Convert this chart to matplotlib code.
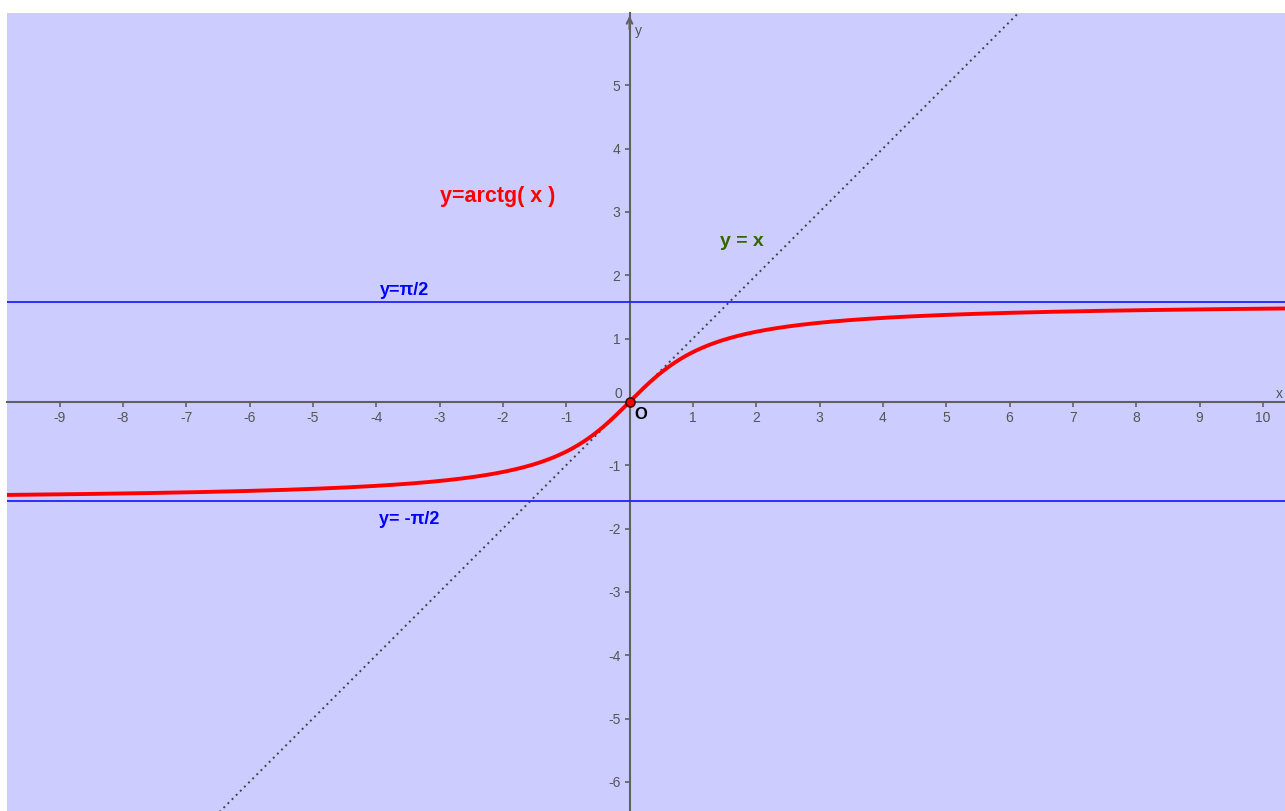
import numpy as np
import matplotlib
matplotlib.use('Agg')
import matplotlib.pyplot as plt

plt.rcParams['font.family'] = ['Liberation Sans', 'DejaVu Sans']

# view window and ticks
X_MIN, X_MAX = -9.83, 10.35
Y_MIN, Y_MAX = -6.46, 6.14
x_ticks = [-9, -8, -7, -6, -5, -4, -3, -2, -1, 1, 2, 3, 4, 5, 6, 7, 8, 9, 10]
y_ticks = [-6, -5, -4, -3, -2, -1, 1, 2, 3, 4, 5]

# curves
xs = np.linspace(X_MIN, X_MAX, 800)
asymptotes = [np.pi / 2, -np.pi / 2]

BG = '#ccccff'
AXIS = '#606060'

fig = plt.figure(figsize=(12.85, 8.11), dpi=100)
ax = fig.add_axes([7 / 1285, 0, 1278 / 1285, 798 / 811])
ax.set_facecolor(BG)
ax.set_xlim(X_MIN, X_MAX)
ax.set_ylim(Y_MIN, Y_MAX)

for s in ['top', 'right']:
    ax.spines[s].set_visible(False)
for s in ['left', 'bottom']:
    ax.spines[s].set_position(('data', 0))
    ax.spines[s].set_color(AXIS)
    ax.spines[s].set_linewidth(1.5)
    ax.spines[s].set_zorder(2)

ax.set_xticks(x_ticks)
ax.set_yticks(y_ticks)
ax.set_xticklabels([str(t) for t in x_ticks])
ax.set_yticklabels([str(t) for t in y_ticks])
ax.tick_params(axis='both', direction='out', length=3.5, width=1.2, color=AXIS,
               labelcolor='#555555', labelsize=10, pad=3)

# y-axis arrow
ax.annotate('', xy=(0, Y_MAX), xytext=(0, Y_MAX - 0.3),
            arrowprops=dict(arrowstyle='->', color=AXIS, lw=1.5,
                            mutation_scale=10), zorder=3)
ax.text(0.08, 5.86, 'y', fontsize=10, color='#555555', ha='left', va='center')
ax.text(10.2, 0.13, 'x', fontsize=10, color='#555555', ha='left', va='center')
ax.text(-0.12, 0.12, '0', fontsize=10, color='#555555', ha='right', va='center')

# y = x
ax.plot(xs, xs, color='#444444', ls=(0, (1, 2)), lw=1.4, zorder=3)

# asymptotes
for a in asymptotes:
    ax.axhline(a, color='#2222ff', lw=1.3, zorder=3)

# arctg
ax.plot(xs, np.arctan(xs), color='#ff0000', lw=2.8, zorder=4)

# origin point
ax.plot([0], [0], 'o', ms=6.5, mfc='#ff0000', mec='#550000', mew=1.2, zorder=5)
ax.text(0.07, -0.2, 'O', fontsize=12, fontweight='bold', color='#000000',
        ha='left', va='center')

# labels
ax.text(-2.99, 3.25, 'y=arctg( x )', fontsize=15.5, fontweight='bold', color='#ff0000',
        ha='left', va='center')
ax.text(1.43, 2.54, 'y = x', fontsize=14, fontweight='bold', color='#336600',
        ha='left', va='center')
ax.text(-3.94, 1.76, 'y=\u03c0/2', fontsize=13, fontweight='bold', color='#0000ff',
        ha='left', va='center')
ax.text(-3.96, -1.86, 'y= -\u03c0/2', fontsize=13, fontweight='bold', color='#0000ff',
        ha='left', va='center')

fig.savefig('out.png', dpi=100, facecolor='white')
